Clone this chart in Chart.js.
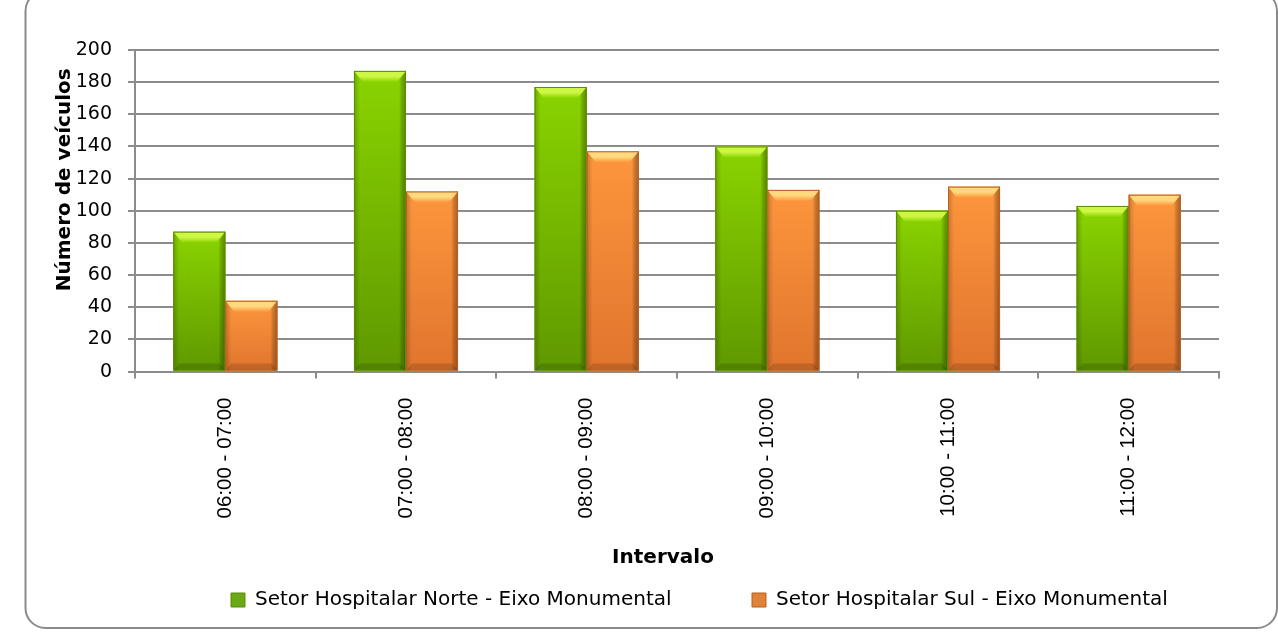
<!DOCTYPE html>
<html>
<head>
<meta charset="utf-8">
<script src="https://cdn.jsdelivr.net/npm/chart.js@4/dist/chart.umd.min.js"></script>
<style>
html,body{margin:0;padding:0;background:#fff;overflow:hidden}
#wrap{width:1278px;height:634px;position:relative}
canvas{display:block}
</style>
</head>
<body>
<div id="wrap"><canvas id="c" width="1278" height="634"></canvas></div>
<script>
// ---- data ----
const categories = ['06:00 - 07:00', '07:00 - 08:00', '08:00 - 09:00', '09:00 - 10:00', '10:00 - 11:00', '11:00 - 12:00'];
const seriesNames = ['Setor Hospitalar Norte - Eixo Monumental', 'Setor Hospitalar Sul - Eixo Monumental'];
const norteValues = [87, 187, 177, 140, 100, 103];
const sulValues = [44, 112, 137, 113, 115, 110];
const yTickValues = [0, 20, 40, 60, 80, 100, 120, 140, 160, 180, 200];
const yTitle = 'Número de veículos';
const xTitle = 'Intervalo';

// ---- styles ----
const palettes = [
  {solid:'#76bc00', top:'#8ad400', bot:'#5f9800', cap:'#cdf744', border:'#5a8c00', legend:'#6aa818'},
  {solid:'#f58a35', top:'#fd963d', bot:'#e0752d', cap:'#ffd97e', border:'#b8601f', legend:'#e0823a'}
];

const meas = document.createElement('canvas').getContext('2d');
meas.font = '20px "DejaVu Sans"';
const w1 = meas.measureText(seriesNames[0]).width;
const legendPad = Math.max(10, 521 - (14 + 10 + w1));

function drawBar(ctx, l, t, r, b, p) {
  const h = b - t;
  if (h <= 0) return;
  const g = ctx.createLinearGradient(0, t, 0, b);
  g.addColorStop(0, p.top);
  g.addColorStop(1, p.bot);
  ctx.fillStyle = g;
  ctx.fillRect(l, t, r - l, h);
  const gl = ctx.createLinearGradient(l, 0, l + 6, 0);
  gl.addColorStop(0, 'rgba(0,0,0,0.20)');
  gl.addColorStop(1, 'rgba(0,0,0,0)');
  ctx.fillStyle = gl;
  ctx.fillRect(l, t, 6, h);
  const gr = ctx.createLinearGradient(r - 7, 0, r, 0);
  gr.addColorStop(0, 'rgba(0,0,0,0)');
  gr.addColorStop(0.4, 'rgba(0,0,0,0.18)');
  gr.addColorStop(1, 'rgba(0,0,0,0.35)');
  ctx.fillStyle = gr;
  ctx.fillRect(r - 7, t, 7, h);
  const cap = Math.min(11, h / 2);
  const gc = ctx.createLinearGradient(0, t, 0, t + cap);
  gc.addColorStop(0, p.cap);
  gc.addColorStop(0.5, p.cap);
  gc.addColorStop(1, p.top);
  ctx.fillStyle = gc;
  ctx.beginPath();
  ctx.moveTo(l, t); ctx.lineTo(r, t); ctx.lineTo(r - 9, t + cap); ctx.lineTo(l + 9, t + cap); ctx.closePath();
  ctx.fill();
  ctx.fillStyle = 'rgba(0,0,0,0.14)';
  ctx.beginPath();
  ctx.moveTo(l, b); ctx.lineTo(r, b); ctx.lineTo(r - 6, b - 7); ctx.lineTo(l + 6, b - 7); ctx.closePath();
  ctx.fill();
  ctx.strokeStyle = p.border;
  ctx.lineWidth = 1;
  ctx.strokeRect(l + 0.5, t + 0.5, r - l - 1, h - 1);
}

const bevelPlugin = {
  id: 'bevel',
  afterDatasetsDraw(chart) {
    const ctx = chart.ctx;
    ctx.save();
    chart.data.datasets.forEach((ds, i) => {
      const meta = chart.getDatasetMeta(i);
      meta.data.forEach(el => {
        const {x, y, base, width} = el.getProps(['x', 'y', 'base', 'width'], true);
        drawBar(ctx, x - width / 2, y, x + width / 2, base, palettes[i]);
      });
    });
    ctx.restore();
  }
};

const framePlugin = {
  id: 'frame',
  beforeDraw(chart) {
    const ctx = chart.ctx;
    ctx.save();
    ctx.fillStyle = '#fff';
    ctx.fillRect(0, 0, chart.width, chart.height);
    ctx.strokeStyle = '#8a8a8a';
    ctx.lineWidth = 2;
    ctx.beginPath();
    ctx.roundRect(25.5, -9, 1251.5, 637, 20);
    ctx.stroke();
    ctx.restore();
  }
};

const gridColor = '#8c8c8c';

const chart = new Chart(document.getElementById('c'), {
  type: 'bar',
  data: {
    labels: categories,
    datasets: [
      {label: seriesNames[0], data: norteValues, backgroundColor: palettes[0].solid, borderWidth: 0},
      {label: seriesNames[1], data: sulValues, backgroundColor: palettes[1].solid, borderWidth: 0}
    ]
  },
  options: {
    responsive: false,
    animation: false,
    devicePixelRatio: 1,
    layout: {padding: {left: 45, right: 59, top: 50, bottom: 0}},
    datasets: {bar: {categoryPercentage: 0.576, barPercentage: 1}},
    plugins: {
      tooltip: {enabled: false},
      legend: {
        position: 'bottom',
        labels: {
          font: {family: '"DejaVu Sans"', size: 20},
          color: '#000',
          boxWidth: 14,
          boxHeight: 14,
          padding: legendPad,
          generateLabels(chart) {
            const items = Chart.defaults.plugins.legend.labels.generateLabels(chart);
            items.forEach((it, i) => { it.fillStyle = palettes[i].legend; it.strokeStyle = palettes[i].border; it.lineWidth = 1; });
            return items;
          }
        }
      }
    },
    scales: {
      x: {
        offset: true,
        grid: {drawOnChartArea: false, drawTicks: true, tickLength: 7, color: gridColor, lineWidth: 2, offset: true},
        border: {display: true, color: gridColor, width: 2},
        ticks: {
          minRotation: 90, maxRotation: 90, autoSkip: false, padding: 19,
          color: '#000', font: {family: '"Liberation Sans"', size: 20.5}
        },
        title: {display: true, text: xTitle, color: '#000', padding: 0,
          font: {family: '"DejaVu Sans"', size: 20, weight: 'bold'}},
        afterFit(scale) {
          scale.height = 152;
          if (!scale._titlePatched) {
            const orig = scale.drawTitle;
            scale.drawTitle = function() { this.ctx.save(); this.ctx.translate(-14, 46); orig.call(this); this.ctx.restore(); };
            scale._titlePatched = true;
          }
        }
      },
      y: {
        min: 0, max: 200,
        afterBuildTicks(scale) { scale.ticks = yTickValues.map(v => ({value: v})); },
        grid: {color: gridColor, lineWidth: 2, tickLength: 7, drawTicks: true},
        border: {display: true, color: gridColor, width: 2},
        ticks: {padding: 16, color: '#000', font: {family: '"DejaVu Sans"', size: 19}},
        title: {display: true, text: yTitle, color: '#000', padding: {top: 8, bottom: 0},
          font: {family: '"DejaVu Sans"', size: 20, weight: 'bold'}},
        afterFit(scale) {
          scale.width = 90;
          if (!scale._titlePatched) {
            const orig = scale.drawTitle;
            scale.drawTitle = function() { this.ctx.save(); this.ctx.translate(0, -31); orig.call(this); this.ctx.restore(); };
            scale._titlePatched = true;
          }
        }
      }
    }
  },
  plugins: [framePlugin, bevelPlugin]
});

// position the legend like the reference (box of item 1 at x=231, text centre at y=600)
(function() {
  const lg = chart.legend;
  const origDraw = lg.draw;
  lg.draw = function(area) {
    const p = this.options.labels.padding;
    const xStart = (this.left + p + this.right - this.lineWidths[0]) / 2;
    const dx = 231 - xStart;
    const dy = 600 - (this.top + p + 10);
    this.ctx.save();
    this.ctx.translate(dx, dy);
    origDraw.call(this, area);
    this.ctx.restore();
  };
  chart.update('none');
})();
</script>
</body>
</html>
